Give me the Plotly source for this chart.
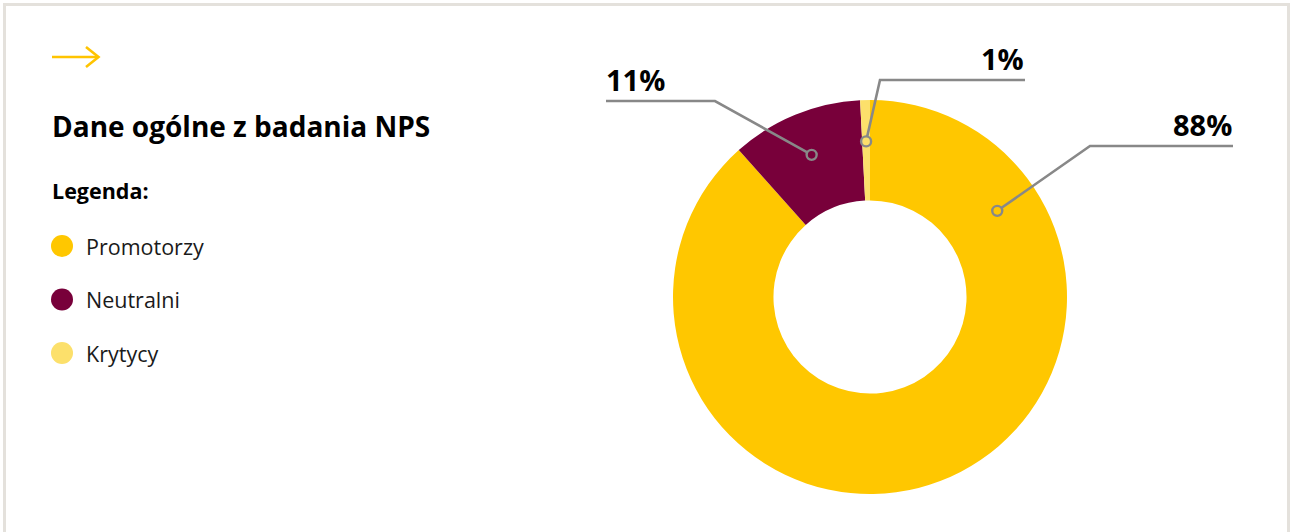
import math
import plotly.graph_objects as go

# ---------------- data ----------------
categories = ["Promotorzy", "Neutralni", "Krytycy"]
shares = [88.4, 10.8, 0.8]
pct_labels = ["88%", "11%", "1%"]
colors = ["#FFC700", "#78003A", "#FCE06B"]

title_text = "Dane ogólne z badania NPS"
legend_title = "Legenda:"

W, H = 1290, 532
FONT = "Open Sans"

# pie geometry (pixels)
CX, CY, R = 870, 297, 197
HOLE = 0.49

fig = go.Figure()

fig.add_trace(go.Pie(
    labels=categories, values=shares, marker=dict(colors=colors, line=dict(width=0)),
    hole=HOLE, sort=False, direction="clockwise", rotation=0,
    textinfo="none", hoverinfo="label+percent", showlegend=False,
    domain=dict(x=[(CX - R) / W, (CX + R) / W], y=[1 - (CY + R) / H, 1 - (CY - R) / H]),
))

# invisible helper trace to establish pixel axes
fig.add_trace(go.Scatter(x=[0, W], y=[0, H], mode="markers", marker=dict(opacity=0),
                         hoverinfo="skip", showlegend=False))

shapes = []
annotations = []

# border
shapes.append(dict(type="rect", xref="x", yref="y", x0=4.5, y0=4.5, x1=1288.5, y1=560,
                   line=dict(color="#E4E1DC", width=3), fillcolor="rgba(0,0,0,0)", layer="below"))

# arrow
shapes.append(dict(type="line", xref="x", yref="y", x0=52, y0=57, x1=98, y1=57,
                   line=dict(color="#FFC400", width=2.6)))
shapes.append(dict(type="path", xref="x", yref="y", path="M 86 47 L 98.5 57 L 86 67",
                   line=dict(color="#FFC400", width=2.6)))

annotations.append(dict(x=50, y=126, xref="x", yref="y", text="<b>%s</b>" % title_text,
                        showarrow=False, xanchor="left", yanchor="middle",
                        font=dict(family=FONT, size=28, color="#000")))
annotations.append(dict(x=50, y=190, xref="x", yref="y", text="<b>%s</b>" % legend_title,
                        showarrow=False, xanchor="left", yanchor="middle",
                        font=dict(family=FONT, size=21.5, color="#000")))

# legend
leg_y0, leg_dy = 246, 53.5
for i, (cat, col) in enumerate(zip(categories, colors)):
    yy = leg_y0 + i * leg_dy
    shapes.append(dict(type="circle", xref="x", yref="y", x0=51, x1=73, y0=yy - 11, y1=yy + 11,
                       fillcolor=col, line=dict(width=0)))
    annotations.append(dict(x=84, y=yy, xref="x", yref="y", text=cat, showarrow=False,
                            xanchor="left", yanchor="middle",
                            font=dict(family=FONT, size=21.5, color="#1a1a1a")))

# callouts: anchor angle (deg clockwise from top; None = slice middle), elbow, end x, text side
total = sum(shares)
callout_style = [
    dict(angle=55.9, rfrac=0.78, elbow=(1090, 146), end_x=1233, side="right"),
    dict(angle=None, rfrac=0.78, elbow=(715, 101), end_x=606, side="left"),
    dict(angle=None, rfrac=0.79, elbow=(880, 80), end_x=1025, side="right"),
]
GRAY = "#888888"
cum = 0.0
for i, (v, lab) in enumerate(zip(shares, pct_labels)):
    st = callout_style[i]
    a0 = cum / total * 360
    cum += v
    a1 = cum / total * 360
    ang = st["angle"] if st["angle"] is not None else (a0 + a1) / 2
    rr = R * st["rfrac"]
    ax = CX + rr * math.sin(math.radians(ang))
    ay = CY - rr * math.cos(math.radians(ang))
    ex, ey = st["elbow"]
    d = math.hypot(ex - ax, ey - ay)
    sx = ax + (ex - ax) / d * 5
    sy = ay + (ey - ay) / d * 5
    shapes.append(dict(type="path", xref="x", yref="y",
                       path=f"M {sx:.1f} {sy:.1f} L {ex} {ey} L {st['end_x']} {ey}",
                       line=dict(color=GRAY, width=2.6)))
    shapes.append(dict(type="circle", xref="x", yref="y", x0=ax - 5, x1=ax + 5,
                       y0=ay - 5, y1=ay + 5, fillcolor="rgba(0,0,0,0)",
                       line=dict(color=GRAY, width=2.4)))
    if st["side"] == "right":
        annotations.append(dict(x=st["end_x"] + 1, y=ey - 22, xref="x", yref="y",
                                text="<b>%s</b>" % lab, showarrow=False,
                                xanchor="right", yanchor="middle",
                                font=dict(family=FONT, size=29, color="#000")))
    else:
        annotations.append(dict(x=st["end_x"] - 2, y=ey - 22, xref="x", yref="y",
                                text="<b>%s</b>" % lab, showarrow=False,
                                xanchor="left", yanchor="middle",
                                font=dict(family=FONT, size=29, color="#000")))

fig.update_layout(
    width=W, height=H, margin=dict(l=0, r=0, t=0, b=0),
    paper_bgcolor="#FFFFFF", plot_bgcolor="rgba(0,0,0,0)",
    xaxis=dict(range=[0, W], visible=False, domain=[0, 1], fixedrange=True),
    yaxis=dict(range=[H, 0], visible=False, domain=[0, 1], fixedrange=True),
    shapes=shapes, annotations=annotations, showlegend=False,
)

fig.write_html("out.html", config={"displayModeBar": False})
